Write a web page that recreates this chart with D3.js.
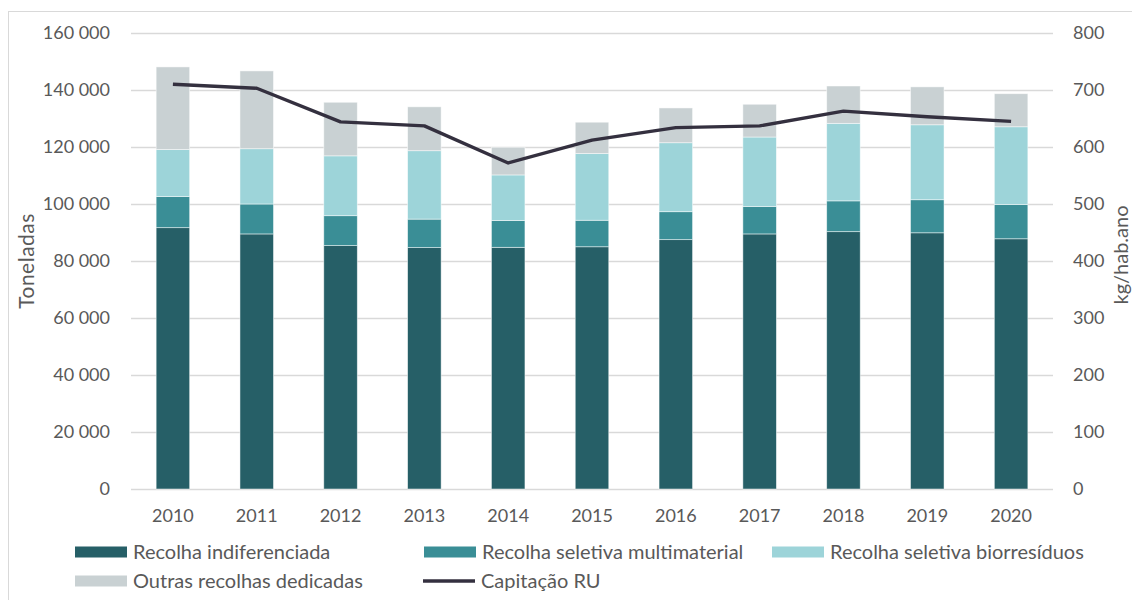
<!DOCTYPE html>
<html>
<head>
<meta charset="utf-8">
<script src="https://cdn.jsdelivr.net/npm/d3@7"></script>
<style>
  html, body { margin: 0; padding: 0; background: #fff; }
  svg { display: block; }
  text { font-family: Lato, "Open Sans", sans-serif; fill: #595959; }
</style>
</head>
<body>
<svg id="chart" width="1132" height="600"></svg>
<script>
// Municipal waste collected per year (tonnes) and per-capita generation (kg/hab.ano)
const years = ["2010","2011","2012","2013","2014","2015","2016","2017","2018","2019","2020"];
const indiferenciada = [91700, 89500, 85400, 84700, 84800, 85000, 87500, 89500, 90300, 89900, 87800];
const multimaterial  = [10900, 10500, 10500, 10000,  9400,  9300,  9800,  9600, 10800, 11600, 12000];
const biorresiduos   = [16500, 19400, 21000, 24000, 16000, 23400, 24200, 24400, 27200, 26300, 27300];
const outras         = [29000, 27300, 18800, 15400,  9700, 11000, 12200, 11500, 13100, 13300, 11600];
const capitacao      = [710, 703, 644, 637, 572, 612, 634, 637, 663, 653, 645];

const leftTicks  = [0, 20000, 40000, 60000, 80000, 100000, 120000, 140000, 160000];
const rightTicks = [0, 100, 200, 300, 400, 500, 600, 700, 800];

const seriesNames  = ["Recolha indiferenciada", "Recolha seletiva multimaterial", "Recolha seletiva biorresíduos", "Outras recolhas dedicadas"];
const seriesKeys   = ["indif", "multi", "bio", "outras"];
const seriesColors = ["#265f67", "#3a8e96", "#9dd4d9", "#c9d1d3"];
const lineName = "Capitação RU";
const lineColor = "#34303f";

const rows = years.map((y, i) => ({
  year: y,
  indif: indiferenciada[i],
  multi: multimaterial[i],
  bio: biorresiduos[i],
  outras: outras[i]
}));

const svg = d3.select("#chart");

// outer frame
svg.append("rect")
  .attr("x", 8.5).attr("y", 11.5)
  .attr("width", 1200).attr("height", 700)
  .attr("fill", "none").attr("stroke", "#d9d9d9").attr("stroke-width", 1);

const plot = { left: 131, right: 1053, top: 33, bottom: 489 };

const x = d3.scaleBand().domain(years)
  .range([plot.left, plot.right]).paddingInner(0.6).paddingOuter(0.3);
const yL = d3.scaleLinear().domain([0, 160000]).range([plot.bottom, plot.top]);
const yR = d3.scaleLinear().domain([0, 800]).range([plot.bottom, plot.top]);

const fmt = v => d3.format(",")(v).replace(/,/g, " ");

// gridlines
svg.append("g").selectAll("line").data(leftTicks).join("line")
  .attr("x1", plot.left).attr("x2", plot.right)
  .attr("y1", d => Math.round(yL(d)) + 0.5).attr("y2", d => Math.round(yL(d)) + 0.5)
  .attr("stroke", "#d9d9d9").attr("stroke-width", 1.5);

// left axis
const gL = svg.append("g").attr("transform", `translate(${plot.left},0)`)
  .call(d3.axisLeft(yL).tickValues(leftTicks).tickFormat(fmt).tickSize(0).tickPadding(21));
gL.select(".domain").remove();
gL.selectAll("text").style("font-size", "18px").attr("fill", "#595959")
  .style("font-family", "Lato, sans-serif");

// right axis
const gR = svg.append("g").attr("transform", `translate(${plot.right},0)`)
  .call(d3.axisRight(yR).tickValues(rightTicks).tickSize(0).tickPadding(20));
gR.select(".domain").remove();
gR.selectAll("text").style("font-size", "18px").attr("fill", "#595959")
  .style("font-family", "Lato, sans-serif");

// x axis
const gX = svg.append("g").attr("transform", `translate(0,${plot.bottom})`)
  .call(d3.axisBottom(x).tickSize(0).tickPadding(20));
gX.select(".domain").remove();
gX.selectAll("text").style("font-size", "18px").attr("fill", "#595959")
  .style("font-family", "Lato, sans-serif");

// stacked bars
const stack = d3.stack().keys(seriesKeys)(rows);
svg.append("g").selectAll("g").data(stack).join("g")
  .attr("fill", (d, i) => seriesColors[i])
  .selectAll("rect").data(d => d).join("rect")
  .attr("x", d => x(d.data.year))
  .attr("width", x.bandwidth())
  .attr("y", d => yL(d[1]))
  .attr("height", d => yL(d[0]) - yL(d[1]))
  .attr("stroke", "#ffffff").attr("stroke-opacity", 0.6).attr("stroke-width", 0.8);

// per-capita line
const line = d3.line()
  .x((d, i) => x(years[i]) + x.bandwidth() / 2)
  .y(d => yR(d));
svg.append("path").datum(capitacao)
  .attr("d", line)
  .attr("fill", "none").attr("stroke", lineColor)
  .attr("stroke-width", 3.4).attr("stroke-linejoin", "round");

// axis titles
svg.append("text")
  .attr("transform", `translate(34,261) rotate(-90)`)
  .attr("text-anchor", "middle")
  .style("font-size", "21px")
  .style("letter-spacing", "0.5px")
  .text("Toneladas");
svg.append("text")
  .attr("transform", `translate(1128,255) rotate(-90)`)
  .attr("text-anchor", "middle")
  .style("font-size", "20px")
  .text("kg/hab.ano");

// legend
const legendItems = [
  { name: seriesNames[0], color: seriesColors[0], type: "rect", x: 75,  y: 552 },
  { name: seriesNames[1], color: seriesColors[1], type: "rect", x: 424, y: 552 },
  { name: seriesNames[2], color: seriesColors[2], type: "rect", x: 772, y: 552 },
  { name: seriesNames[3], color: seriesColors[3], type: "rect", x: 75,  y: 581 },
  { name: lineName,       color: lineColor,       type: "line", x: 423, y: 581 }
];
const lg = svg.append("g").selectAll("g").data(legendItems).join("g")
  .attr("transform", d => `translate(${d.x},${d.y})`);
lg.filter(d => d.type === "rect").append("rect")
  .attr("x", 0).attr("y", -5.5).attr("width", 52).attr("height", 11)
  .attr("fill", d => d.color);
lg.filter(d => d.type === "line").append("line")
  .attr("x1", 0).attr("x2", 52).attr("y1", 0).attr("y2", 0)
  .attr("stroke", d => d.color).attr("stroke-width", 3.4);
lg.append("text")
  .attr("x", 58).attr("y", 0).attr("dy", "0.35em")
  .style("font-size", "20px")
  .text(d => d.name);
</script>
</body>
</html>
